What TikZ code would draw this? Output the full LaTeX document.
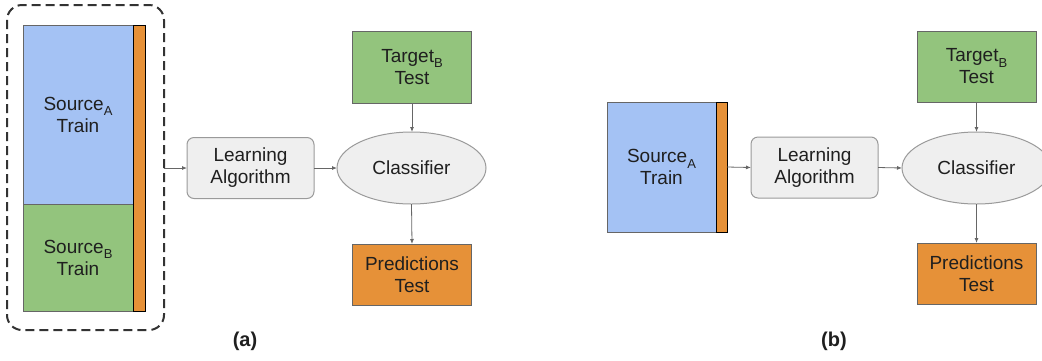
\documentclass[tikz,border=0pt]{standalone}
\usepackage{fontspec}
\setmainfont{Liberation Sans}
\usetikzlibrary{arrows.meta,shapes.geometric}

\definecolor{srcblue}{HTML}{A4C2F4}
\definecolor{srcgreen}{HTML}{93C47D}
\definecolor{labelorange}{HTML}{E69138}
\definecolor{procgray}{HTML}{EFEFEF}
\definecolor{edgegray}{HTML}{666666}
\definecolor{softgray}{HTML}{9A9A9A}
\definecolor{dashgray}{HTML}{333333}
\definecolor{inkgray}{HTML}{1F1F1F}

\newcommand{\subtag}[1]{\raisebox{-0.55ex}{\fontsize{13}{13}\selectfont #1}}

\tikzset{
  datablock/.style={draw=edgegray, line width=0.9pt, inner sep=0pt, outer sep=0pt,
    align=center, text=inkgray, font=\fontsize{19}{22}\selectfont},
  labelstrip/.style={draw=black, line width=0.9pt, fill=labelorange, inner sep=0pt, outer sep=0pt},
  procbox/.style={draw=softgray, line width=1pt, fill=procgray, rounded corners=7pt,
    minimum width=127pt, minimum height=61pt, inner sep=0pt, outer sep=0pt,
    align=center, text=inkgray, font=\fontsize{19}{22}\selectfont},
  model/.style={ellipse, draw=softgray, line width=1pt, fill=procgray,
    minimum width=149pt, minimum height=72pt, inner sep=0pt, outer sep=0pt,
    text=inkgray, font=\fontsize{19}{22}\selectfont},
  flow/.style={draw=edgegray, line width=0.8pt, -{Latex[length=5pt,width=4pt]}},
  grouping/.style={draw=dashgray, line width=2pt, dash pattern=on 9pt off 5pt, rounded corners=15pt},
  caption/.style={font=\fontsize{20}{22}\selectfont\bfseries, text=inkgray}
}

\begin{document}
\begin{tikzpicture}[x=1pt, y=-1pt]
  \useasboundingbox (0,0) rectangle (1042,360);

  % ---------- (a): two source domains pooled for training ----------
  \node[datablock, fill=srcblue, minimum width=110pt, minimum height=179pt] (srcA)
    at (78,114.5) {Source\subtag{A}\\Train};
  \node[datablock, fill=srcgreen, minimum width=110pt, minimum height=107pt] (srcB)
    at (78,257.5) {Source\subtag{B}\\Train};
  \node[labelstrip, minimum width=12pt, minimum height=286pt] (labA) at (139,168) {};
  \draw[grouping] (7,5) rectangle (164,330);
  \coordinate (poolout) at (164,168);

  \node[procbox] (learnA) at (250.5,168) {Learning\\Algorithm};
  \node[model] (clsA) at (411.5,168) {Classifier};
  \node[datablock, fill=srcgreen, minimum width=119pt, minimum height=72pt] (tgtA)
    at (412,67) {Target\subtag{B}\\Test};
  \node[datablock, fill=labelorange, minimum width=119pt, minimum height=61pt] (predA)
    at (412,274.5) {Predictions\\Test};

  \draw[flow] (poolout) -- (learnA.west);
  \draw[flow] (learnA.east) -- (clsA.west);
  \draw[flow] (tgtA.south) -- (tgtA.south |- clsA.north);
  \draw[flow] (clsA.south) -- (predA.north);

  \node[caption] (capA) at (245,341) {(a)};

  % ---------- (b): a single source domain for training ----------
  \node[datablock, fill=srcblue, minimum width=109pt, minimum height=130pt] (srcOnly)
    at (661.5,167) {Source\subtag{A}\\Train};
  \node[labelstrip, minimum width=11pt, minimum height=130pt] (labB) at (721.5,167) {};

  \node[procbox] (learnB) at (814.5,167.5) {Learning\\Algorithm};
  \node[model] (clsB) at (976.5,168) {Classifier};
  \node[datablock, fill=srcgreen, minimum width=119pt, minimum height=71pt] (tgtB)
    at (976.5,66.5) {Target\subtag{B}\\Test};
  \node[datablock, fill=labelorange, minimum width=119pt, minimum height=61pt] (predB)
    at (976.5,273.5) {Predictions\\Test};

  \draw[flow] (labB.east) -- (learnB.west);
  \draw[flow] (learnB.east) -- (clsB.west);
  \draw[flow] (tgtB.south) -- (clsB.north);
  \draw[flow] (clsB.south) -- (predB.north);

  \node[caption] (capB) at (834,341) {(b)};
\end{tikzpicture}
\end{document}
